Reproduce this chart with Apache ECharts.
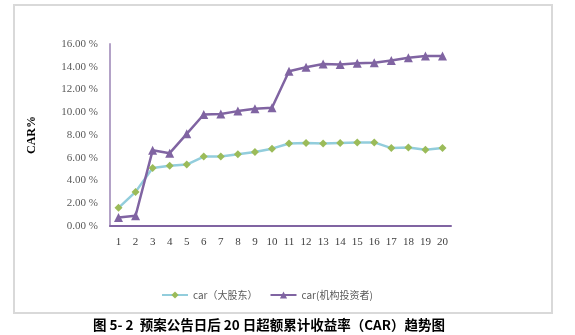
<!DOCTYPE html>
<html>
<head>
<meta charset="utf-8">
<script src="https://cdn.jsdelivr.net/npm/echarts@6/dist/echarts.min.js"></script>
<style>
  html, body { margin: 0; padding: 0; background: #fff; }
  #chart { width: 575px; height: 335px; }
</style>
</head>
<body>
<div id="chart"></div>
<script>
// Event days after the announcement
const days = ['1','2','3','4','5','6','7','8','9','10','11','12','13','14','15','16','17','18','19','20'];
// Cumulative abnormal return (%) — major shareholders
const carMajor = [1.6, 3.0, 5.1, 5.3, 5.4, 6.1, 6.1, 6.3, 6.5, 6.8, 7.25, 7.3, 7.25, 7.3, 7.35, 7.35, 6.85, 6.9, 6.7, 6.85];
// Cumulative abnormal return (%) — institutional investors
const carInst = [0.75, 0.9, 6.65, 6.4, 8.1, 9.8, 9.85, 10.1, 10.3, 10.4, 13.6, 13.95, 14.25, 14.2, 14.3, 14.35, 14.55, 14.8, 14.95, 14.95];
const seriesNames = ['car（大股东）', 'car(机构投资者)'];
const yTicks = { min: 0, max: 16, interval: 2 };

const chart = echarts.init(document.getElementById('chart'), null, { renderer: 'canvas' });
const serif = '"Liberation Serif", "DejaVu Serif", serif';
const cjk = '"Noto Sans CJK SC", "Noto Sans", sans-serif';

chart.setOption({
  animation: false,
  backgroundColor: '#fff',
  grid: { left: 110, right: 124, top: 44, bottom: 109 },
  legend: {
    bottom: 30,
    left: 156,
    itemWidth: 26,
    itemHeight: 9,
    itemGap: 12,
    textStyle: { fontFamily: cjk, fontSize: 10, color: '#595959' },
    data: seriesNames
  },
  xAxis: {
    type: 'category',
    data: days,
    boundaryGap: true,
    axisLine: { lineStyle: { color: '#8064a2', width: 2 } },
    axisTick: { show: false },
    axisLabel: { fontFamily: serif, fontSize: 11, color: '#404040', margin: 11 }
  },
  yAxis: {
    type: 'value',
    min: yTicks.min,
    max: yTicks.max,
    interval: yTicks.interval,
    name: 'CAR%',
    nameLocation: 'middle',
    nameGap: 72,
    nameTextStyle: { fontFamily: serif, fontSize: 12, fontWeight: 'bold', color: '#000' },
    axisLine: { show: true, lineStyle: { color: '#b3a2c7', width: 2 } },
    axisTick: { show: false },
    splitLine: { show: false },
    axisLabel: {
      fontFamily: serif, fontSize: 11, color: '#595959', margin: 12,
      formatter: v => v.toFixed(2) + ' %'
    }
  },
  series: [
    {
      name: seriesNames[0],
      type: 'line',
      data: carMajor,
      symbol: 'diamond',
      symbolSize: 8,
      lineStyle: { color: '#92cddc', width: 2.5 },
      itemStyle: { color: '#9bbb59' }
    },
    {
      name: seriesNames[1],
      type: 'line',
      data: carInst,
      symbol: 'triangle',
      symbolSize: 9,
      lineStyle: { color: '#8064a2', width: 2.5 },
      itemStyle: { color: '#8064a2' }
    }
  ],
  graphic: [
    {
      type: 'rect',
      shape: { x: 14, y: 5, width: 538, height: 308 },
      style: { fill: 'none', stroke: '#d9d9d9', lineWidth: 2 },
      z: -1
    },
    {
      type: 'text',
      x: 269,
      y: 325,
      style: {
        text: '图 5- 2  预案公告日后 20 日超额累计收益率（CAR）趋势图',
        font: 'bold 13.5px "Noto Sans CJK SC", sans-serif',
        fill: '#000',
        align: 'center',
        verticalAlign: 'middle'
      }
    }
  ]
});
</script>
</body>
</html>
